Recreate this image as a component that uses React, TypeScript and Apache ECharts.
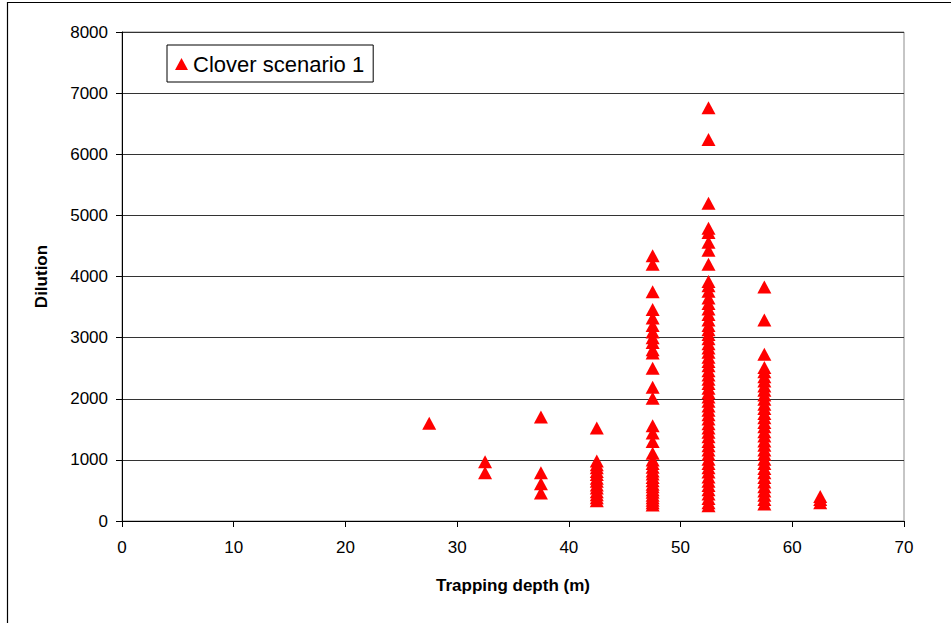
import React, { useEffect, useRef } from "react";
import * as echarts from "echarts";

// Trapping depths (m) of each sampled layer
const depths = [27.5, 32.5, 37.5, 42.5, 47.5, 52.5, 57.5, 62.5];

// Dilution values recorded at each trapping depth
const dilution275 = [1600];
const dilution325 = [970, 790];
const dilution375 = [1700, 790, 610, 460];
const dilution425 = [1520, 980, 920, 870, 810, 760, 700, 650, 590, 540, 480, 430, 380, 330];
const dilution475 = [
  4340, 4200, 3750, 3460, 3320, 3200, 3090, 3000, 2920, 2800, 2750, 2500, 2190, 2010,
  1560, 1440, 1300, 1110, 1000, 940, 880, 820, 770, 710, 660, 600, 560, 510, 470, 420,
  380, 340, 300, 260,
];
const dilution525 = [
  6760, 6240, 5200, 4790, 4720, 4560, 4430, 4200, 3920, 3850, 3760, 3650, 3560, 3470,
  3380, 3290, 3200, 3130, 3050, 2980, 2900, 2830, 2760, 2680, 2610, 2540, 2460, 2390,
  2320, 2250, 2170, 2100, 2030, 1960, 1880, 1810, 1740, 1670, 1590, 1520, 1450, 1380,
  1300, 1230, 1160, 1090, 1010, 940, 870, 800, 720, 650, 580, 510, 440, 370, 300, 250,
];
const dilution575 = [
  3830, 3290, 2730, 2510, 2440, 2360, 2290, 2210, 2140, 2060, 1990, 1910, 1840, 1760,
  1690, 1610, 1540, 1460, 1390, 1310, 1240, 1160, 1090, 1010, 940, 860, 790, 710, 640,
  560, 490, 420, 350, 280,
];
const dilution625 = [400, 350, 300];

const dilutionByDepth = [
  dilution275,
  dilution325,
  dilution375,
  dilution425,
  dilution475,
  dilution525,
  dilution575,
  dilution625,
];

const seriesName = "Clover scenario 1";
const xTitle = "Trapping depth (m)";
const yTitle = "Dilution";

const FONT = '"Liberation Sans", Arial, Helvetica, sans-serif';

export default function App() {
  const ref = useRef<HTMLDivElement>(null);

  useEffect(() => {
    if (!ref.current) return;
    const chart = echarts.init(ref.current, null, { renderer: "svg" });

    const points: number[][] = [];
    depths.forEach((d, i) => {
      dilutionByDepth[i].forEach((v) => points.push([d, v]));
    });

    chart.setOption({
      animation: false,
      backgroundColor: "#ffffff",
      textStyle: { fontFamily: FONT },
      grid: {
        left: 122,
        top: 32,
        right: 47,
        bottom: 102,
        show: true,
        borderColor: "#8c8c8c",
        borderWidth: 1,
        backgroundColor: "transparent",
      },
      legend: {
        left: 167,
        top: 45,
        orient: "vertical",
        padding: [8, 9, 7, 8],
        backgroundColor: "#ffffff",
        borderColor: "#000000",
        borderWidth: 1,
        icon: "triangle",
        itemWidth: 13,
        itemHeight: 12,
        itemGap: 5,
        textStyle: { fontSize: 22, color: "#000000", fontFamily: FONT },
        data: [seriesName],
      },
      xAxis: {
        type: "value",
        min: 0,
        max: 70,
        interval: 10,
        name: xTitle,
        nameLocation: "middle",
        nameGap: 56,
        nameTextStyle: { fontSize: 17, fontWeight: "bold", color: "#000", fontFamily: FONT },
        axisLine: { show: true, onZero: false, lineStyle: { color: "#000", width: 1 } },
        axisTick: { show: true, inside: false, length: 6, lineStyle: { color: "#000" } },
        axisLabel: { fontSize: 17, color: "#000", margin: 18, fontFamily: FONT },
        splitLine: { show: false },
      },
      yAxis: {
        type: "value",
        min: 0,
        max: 8000,
        interval: 1000,
        name: yTitle,
        nameLocation: "middle",
        nameGap: 72,
        nameTextStyle: { fontSize: 17, fontWeight: "bold", color: "#000", fontFamily: FONT },
        axisLine: { show: true, onZero: false, lineStyle: { color: "#000", width: 1 } },
        axisTick: { show: true, inside: false, length: 6, lineStyle: { color: "#000" } },
        axisLabel: {
          fontSize: 17,
          color: "#000",
          margin: 14,
          fontFamily: FONT,
          formatter: (v: number) => String(v),
        },
        splitLine: { show: true, lineStyle: { color: "#333333", width: 1 } },
      },
      series: [
        {
          name: seriesName,
          type: "scatter",
          symbol: "triangle",
          symbolSize: [14, 13],
          itemStyle: { color: "#ff0000", opacity: 1 },
          emphasis: { disabled: true },
          data: points,
          z: 3,
        },
      ],
      graphic: [
        {
          type: "rect",
          silent: true,
          shape: { x: 7.5, y: 2.5, width: 1000, height: 1000 },
          style: { fill: "none", stroke: "#000000", lineWidth: 1.2 },
        },
      ],
    });

    return () => chart.dispose();
  }, []);

  return (
    <div
      ref={ref}
      style={{ position: "fixed", left: 0, top: 0, width: 951, height: 623, background: "#fff" }}
    />
  );
}
